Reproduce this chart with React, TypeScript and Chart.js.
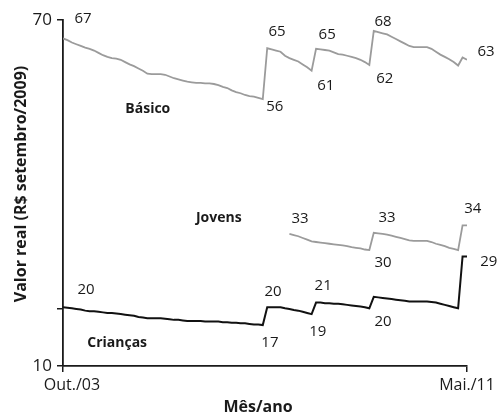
import React, { useEffect, useRef } from "react";
import { Chart, registerables } from "chart.js";

Chart.register(...registerables);

// Months since Out./03 (0) to Mai./11 (91)
const X_TICK_MONTHS = [0, 91];
const X_TICK_LABELS = ["Out./03", "Mai./11"];
const Y_TICK_VALUES = [10, 20, 70];
const Y_TICK_LABELS = ["10", "", "70"];

const BASICO = [
  66.8, 66.5, 66.1, 65.8, 65.5, 65.2, 65.0, 64.7, 64.3, 63.9,
  63.6, 63.4, 63.3, 63.1, 62.7, 62.3, 62.0, 61.6, 61.2, 60.7,
  60.6, 60.6, 60.6, 60.5, 60.2, 59.9, 59.7, 59.5, 59.3, 59.2,
  59.1, 59.1, 59.0, 59.0, 58.9, 58.7, 58.4, 58.2, 57.8, 57.5,
  57.3, 57.0, 56.8, 56.7, 56.5, 56.3, 65.1, 64.9, 64.7, 64.5,
  63.8, 63.4, 63.1, 62.8, 62.3, 61.8, 61.2, 65.0, 64.9, 64.8,
  64.7, 64.4, 64.1, 64.0, 63.8, 63.6, 63.4, 63.1, 62.7, 62.2,
  68.1, 67.9, 67.7, 67.5, 67.1, 66.7, 66.3, 65.9, 65.5, 65.3,
  65.3, 65.3, 65.3, 65.0, 64.5, 64.0, 63.6, 63.2, 62.7, 62.1,
  63.5, 63.1,
];

const JOVENS_START = 51;
const JOVENS = [
  32.9, 32.7, 32.5, 32.2, 31.9, 31.6, 31.5, 31.4, 31.3, 31.2,
  31.1, 31.0, 30.9, 30.8, 30.6, 30.5, 30.4, 30.2, 30.1, 33.1,
  33.0, 32.9, 32.8, 32.6, 32.4, 32.2, 32.0, 31.8, 31.7, 31.7,
  31.7, 31.7, 31.5, 31.2, 31.0, 30.8, 30.5, 30.3, 30.1, 34.4,
  34.4,
];

const CRIANCAS = [
  20.2, 20.1, 20.0, 19.9, 19.8, 19.6, 19.5, 19.5, 19.4, 19.3,
  19.2, 19.2, 19.1, 19.0, 18.9, 18.8, 18.7, 18.5, 18.4, 18.3,
  18.3, 18.3, 18.3, 18.2, 18.1, 18.0, 18.0, 17.9, 17.8, 17.8,
  17.8, 17.8, 17.7, 17.7, 17.7, 17.7, 17.6, 17.6, 17.5, 17.5,
  17.4, 17.4, 17.3, 17.2, 17.2, 17.1, 20.2, 20.2, 20.2, 20.2,
  20.0, 19.9, 19.7, 19.6, 19.4, 19.2, 19.0, 21.0, 21.0, 20.9,
  20.9, 20.8, 20.8, 20.7, 20.6, 20.5, 20.4, 20.3, 20.2, 20.0,
  22.0, 21.9, 21.8, 21.7, 21.6, 21.5, 21.4, 21.3, 21.2, 21.2,
  21.2, 21.2, 21.2, 21.1, 21.0, 20.8, 20.6, 20.4, 20.2, 20.0,
  29.0, 29.0,
];

// Annotations: [text, month, value, bold]
const ANNOTATIONS: [string, number, number, boolean][] = [
  ["67", 4.5, 70.3, false],
  ["65", 48.2, 67.9, false],
  ["56", 47.7, 54.9, false],
  ["65", 59.5, 67.4, false],
  ["61", 59.2, 58.6, false],
  ["68", 72.1, 69.7, false],
  ["62", 72.5, 59.8, false],
  ["63", 95.3, 64.5, false],
  ["Básico", 19.1, 54.6, true],
  ["Jovens", 35.1, 35.7, true],
  ["33", 53.4, 35.5, false],
  ["33", 73.0, 35.7, false],
  ["34", 92.3, 37.2, false],
  ["30", 72.1, 27.9, false],
  ["29", 95.9, 28.0, false],
  ["20", 5.2, 23.2, false],
  ["Crianças", 12.2, 14.0, true],
  ["20", 47.3, 22.8, false],
  ["17", 46.6, 14.0, false],
  ["21", 58.6, 23.9, false],
  ["19", 57.4, 15.9, false],
  ["20", 72.1, 17.6, false],
];

const Y_TITLE = "Valor real (R$ setembro/2009)";
const X_TITLE = "Mês/ano";

const FONT = "'Open Sans', sans-serif";
const TEXT = "#1a1a1a";
const X_LABEL_SHIFT = [9, 0];

export default function App() {
  const ref = useRef<HTMLCanvasElement | null>(null);

  useEffect(() => {
    const canvas = ref.current;
    if (!canvas) return;

    const toPts = (arr: number[], start: number) =>
      arr.map((v, i) => ({ x: start + i, y: v }));

    const annotationPlugin = {
      id: "annotations",
      afterDraw(chart: any) {
        const { ctx, scales } = chart;
        const xs = scales.x;
        const ys = scales.y;
        ctx.save();
        ctx.fillStyle = TEXT;
        ctx.textAlign = "center";
        ctx.textBaseline = "middle";
        for (const [text, m, v, bold] of ANNOTATIONS) {
          ctx.font = `${bold ? "bold " : ""}${bold ? 14 : 15}px ${FONT}`;
          ctx.fillText(text, xs.getPixelForValue(m), ys.getPixelForValue(v));
        }
        // x tick labels
        ctx.font = `16px ${FONT}`;
        X_TICK_MONTHS.forEach((m, i) => {
          ctx.fillText(X_TICK_LABELS[i], xs.getPixelForValue(m) + X_LABEL_SHIFT[i], xs.top + 19);
        });
        // axis titles
        ctx.font = `bold 16px ${FONT}`;
        ctx.save();
        ctx.translate(21, 184);
        ctx.rotate(-Math.PI / 2);
        ctx.fillText(Y_TITLE, 0, 0);
        ctx.restore();
        ctx.fillText(X_TITLE, 258, 407);
        ctx.restore();
      },
    };

    const chart = new Chart(canvas, {
      type: "line",
      data: {
        datasets: [
          {
            label: "Básico",
            data: toPts(BASICO, 0),
            borderColor: "#9b9b9b",
            borderWidth: 1.8,
            pointRadius: 0,
            tension: 0,
          },
          {
            label: "Jovens",
            data: toPts(JOVENS, JOVENS_START),
            borderColor: "#9b9b9b",
            borderWidth: 1.8,
            pointRadius: 0,
            tension: 0,
          },
          {
            label: "Crianças",
            data: toPts(CRIANCAS, 0),
            borderColor: "#111111",
            borderWidth: 2,
            pointRadius: 0,
            tension: 0,
          },
        ],
      },
      options: {
        responsive: false,
        animation: false,
        layout: { padding: { top: 20, right: 32, left: 0, bottom: 0 } },
        plugins: {
          legend: { display: false },
          tooltip: { enabled: false },
        },
        scales: {
          x: {
            type: "linear",
            min: 0,
            max: 91,
            afterBuildTicks: (s: any) => {
              s.ticks = X_TICK_MONTHS.map((v) => ({ value: v }));
            },
            afterFit: (s: any) => {
              s.height = 52;
            },
            ticks: {
              autoSkip: false,
              maxRotation: 0,
              callback: () => "",
            },
            grid: {
              display: true,
              drawOnChartArea: false,
              drawTicks: true,
              tickLength: 6,
              color: TEXT,
              lineWidth: 1.5,
            },
            border: { display: true, color: TEXT, width: 1.8 },
          },
          y: {
            type: "linear",
            min: 10,
            max: 70,
            afterBuildTicks: (s: any) => {
              s.ticks = Y_TICK_VALUES.map((v) => ({ value: v }));
            },
            afterFit: (s: any) => {
              s.width = 63;
            },
            ticks: {
              autoSkip: false,
              padding: 5,
              color: TEXT,
              font: { family: FONT, size: 17 },
              callback: (v: any) => {
                const i = Y_TICK_VALUES.indexOf(Number(v));
                return i >= 0 ? Y_TICK_LABELS[i] : "";
              },
            },
            grid: {
              display: true,
              drawOnChartArea: false,
              drawTicks: true,
              tickLength: 6,
              color: TEXT,
              lineWidth: 1.5,
            },
            border: { display: true, color: TEXT, width: 1.8 },
          },
        },
      },
      plugins: [annotationPlugin],
    } as any);

    return () => chart.destroy();
  }, []);

  return (
    <div style={{ position: "fixed", left: 0, top: 0, width: 499, height: 418, background: "#fff" }}>
      <canvas ref={ref} width={499} height={418} style={{ width: 499, height: 418 }} />
    </div>
  );
}
